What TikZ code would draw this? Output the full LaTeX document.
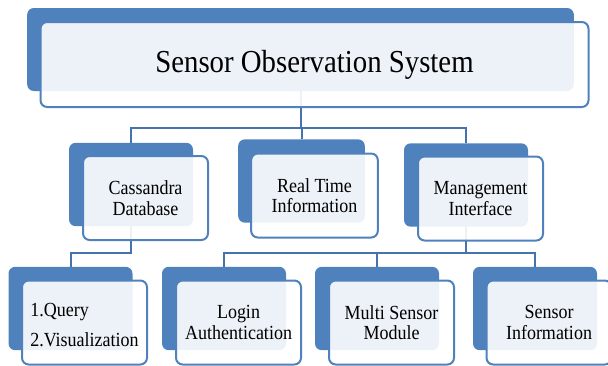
\documentclass[tikz,border=0pt]{standalone}
\usepackage{fontspec}
\setmainfont{Liberation Serif}[FakeStretch=0.9]
\usetikzlibrary{backgrounds}
\definecolor{boxblue}{HTML}{4F81BD}
\definecolor{lineblue}{HTML}{4673AD}
\begin{document}
\begin{tikzpicture}[x=0.75pt,y=-0.75pt]
\tikzstyle{back} = [fill=boxblue, rounded corners=5pt, minimum width=93pt, minimum height=62.5pt, inner sep=0pt]
\tikzstyle{front} = [draw=boxblue, line width=1.5pt, fill=white, fill opacity=0.9, text opacity=1, rounded corners=5pt, minimum width=93.75pt, minimum height=63pt, inner sep=2pt, align=center, font=\fontsize{15}{15.5}\selectfont]
\tikzstyle{link} = [draw=lineblue, line width=1.5pt]
\useasboundingbox (0,0) rectangle (608,365);
\clip (0,0) rectangle (608,365);
% top level
\node[back, minimum width=410pt, minimum height=62.25pt] (topb) at (300.5,49.5) {};
\node[front, minimum width=411pt, minimum height=63.75pt, font=\fontsize{24}{28}\selectfont] (top) at ([shift={(14,15)}]topb) {Sensor Observation System};
% second level
\node[back] (cassb) at (131,184.5) {};
\node[front] (cass) at ([shift={(14.5,13.5)}]cassb) {Cassandra\\Database};
\node[back, minimum width=95pt] (realb) at (301.5,181) {};
\node[front, minimum width=95pt] (real) at ([shift={(13,14.5)}]realb) {Real Time\\Information};
\node[back] (mgmtb) at (466,185) {};
\node[front] (mgmt) at ([shift={(14.5,13.5)}]mgmtb) {Management\\Interface};
% third level
\node[back] (queryb) at (70.5,308.5) {};
\node[front] (query) at ([shift={(14,14)}]queryb) {\raisebox{-4pt}[\height][\depth]{\begin{tabular}{@{}l@{}}1.Query\\[7pt]2.Visualization\end{tabular}}};
\node[back] (loginb) at (224,308.5) {};
\node[front] (login) at ([shift={(14.5,14)}]loginb) {Login\\Authentication};
\node[back] (multib) at (377,308.5) {};
\node[front] (multi) at ([shift={(14.5,14)}]multib) {Multi Sensor\\Module};
\node[back] (sensb) at (535,308.5) {};
\node[front] (sens) at ([shift={(14,14)}]sensb) {Sensor\\Information};
% connectors
\begin{pgfonlayer}{background}
\path (topb.south) ++(0,37) coordinate (j1);
\draw[link] (topb.south) -- (j1) -| (cassb.north);
\draw[link] (j1) -| (mgmtb.north);
\draw[link] (j1) -| (realb.north);
\path (cassb.south) ++(0,27) coordinate (j2);
\draw[link] (cassb.south) -- (j2) -| (queryb.north);
\path (mgmtb.south) ++(0,26) coordinate (j3);
\draw[link] (mgmtb.south) -- (j3) -| (loginb.north);
\draw[link] (j3) -| (multib.north);
\draw[link] (j3) -| (sensb.north);
\end{pgfonlayer}
\end{tikzpicture}
\end{document}
